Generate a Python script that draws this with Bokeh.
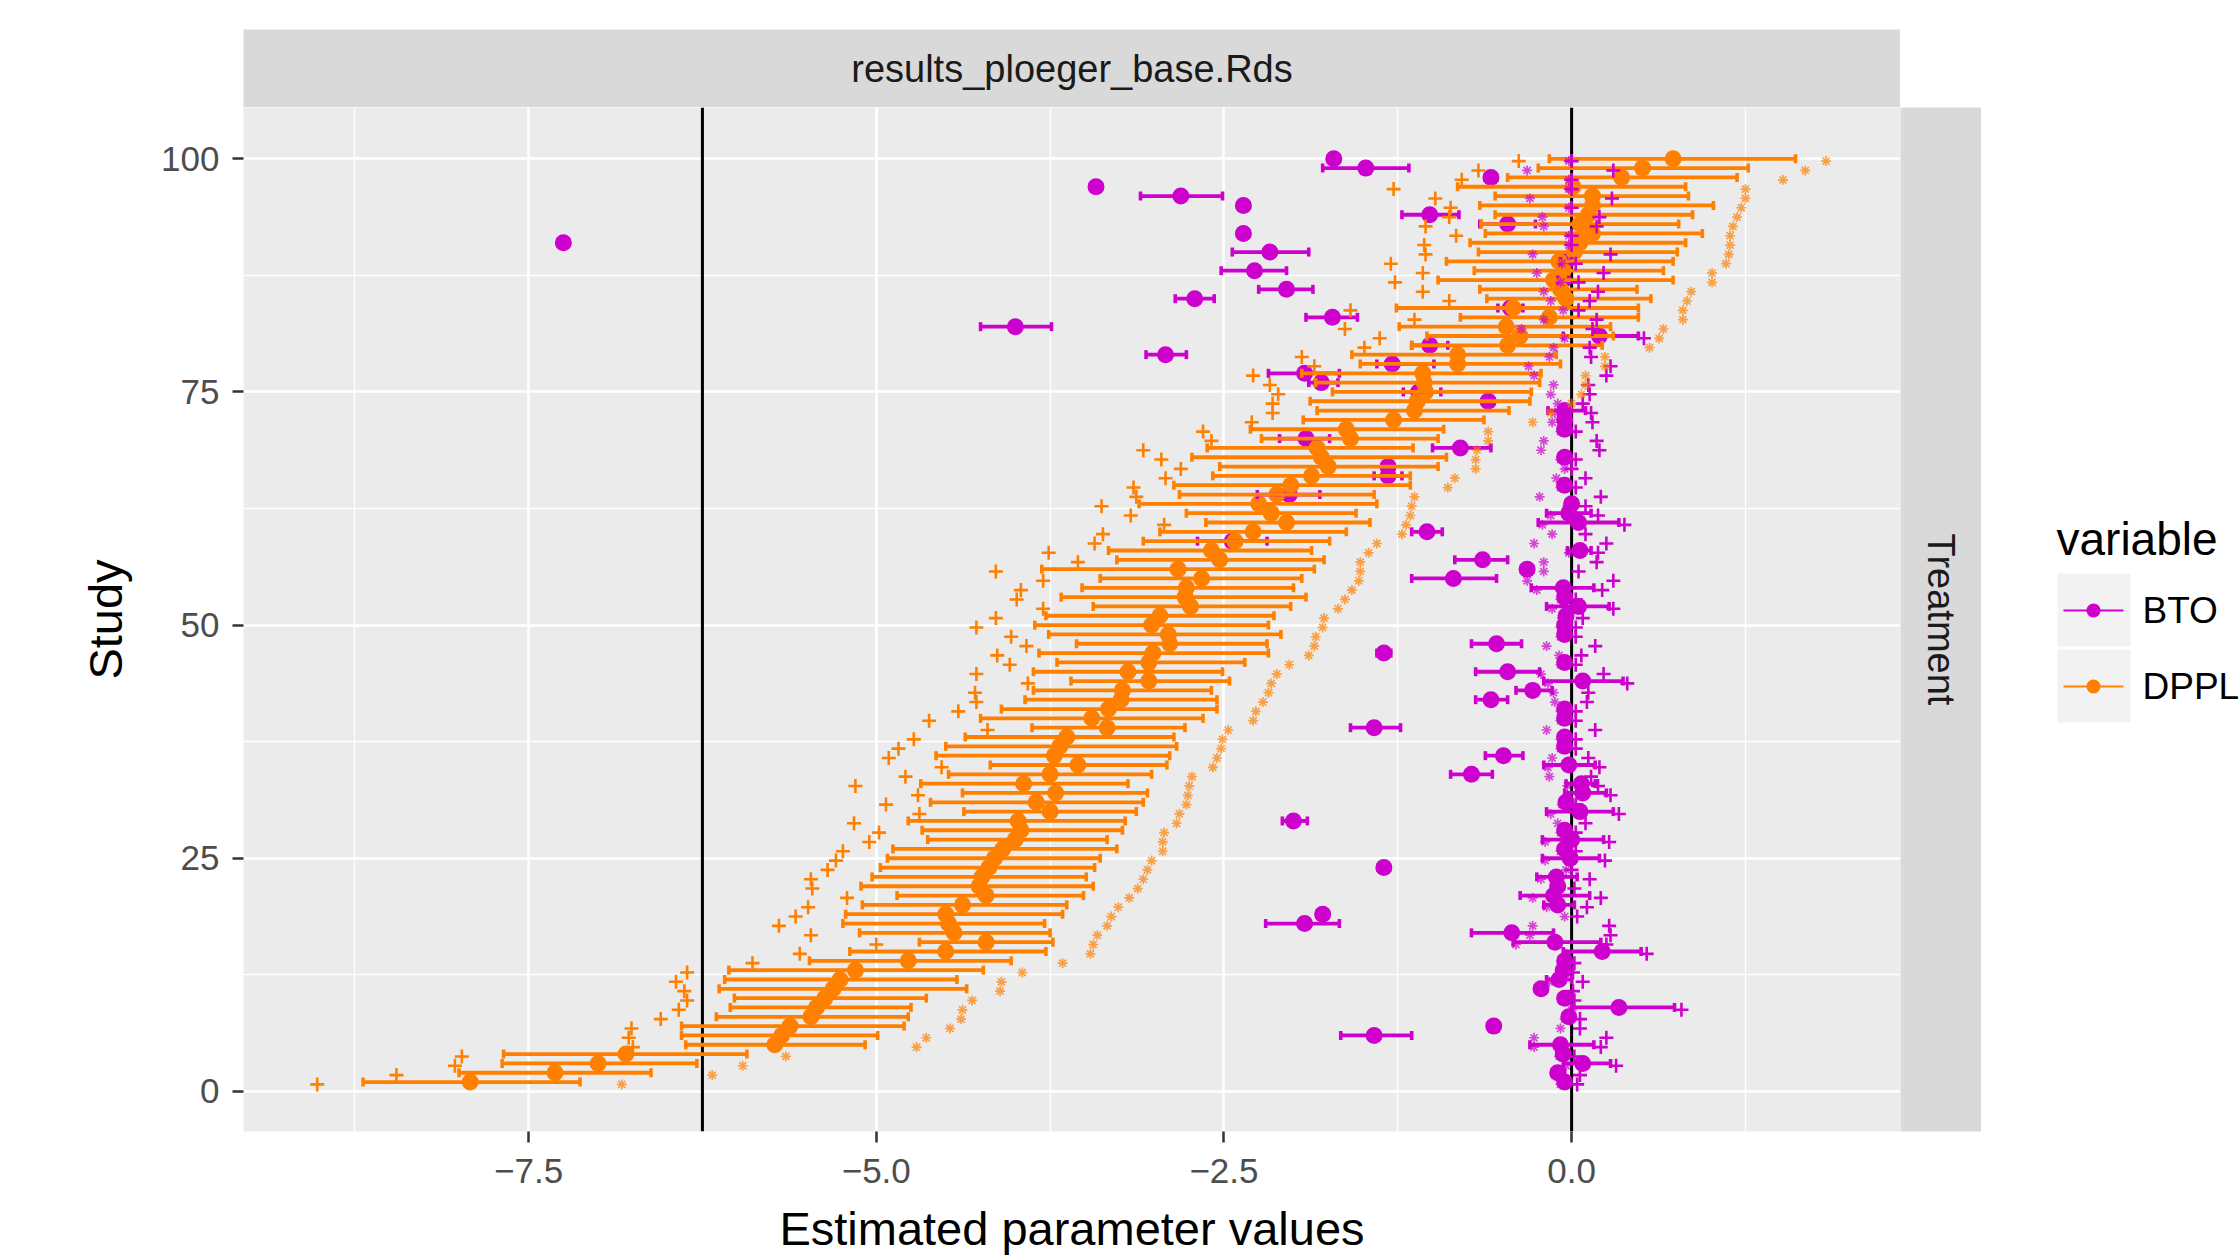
import math
from bokeh.plotting import figure
from bokeh.models import ColumnDataSource, Range1d, FixedTicker, Span
from bokeh.layouts import row, column
from bokeh.transform import dodge
from bokeh.embed import file_html
from bokeh.resources import INLINE
from bokeh.core.properties import value

# ---------------- data ----------------
study = list(range(1, 101))

dppl_est = [-7.92, -7.31, -7.00, -6.80, -5.73, -5.68, -5.62, -5.47, -5.43, -5.37,
            -5.31, -5.26, -5.15, -4.77, -4.50, -4.21, -4.44, -4.48, -4.50, -4.38,
            -4.21, -4.26, -4.24, -4.19, -4.15, -4.09, -4.00, -3.96, -3.98, -3.75,
            -3.85, -3.71, -3.94, -3.75, -3.55, -3.72, -3.68, -3.63, -3.34, -3.45,
            -3.33, -3.24, -3.23, -3.04, -3.19, -3.04, -3.01, -2.89, -2.90, -3.02,
            -2.96, -2.74, -2.78, -2.77, -2.66, -2.83, -2.53, -2.59, -2.42, -2.29,
            -2.05, -2.16, -2.25, -2.12, -2.02, -1.87, -1.75, -1.80, -1.83, -1.59,
            -1.62, -1.28, -1.13, -1.11, -1.05, -1.06, -1.07, -0.82, -0.82, -0.46,
            -0.37, -0.47, -0.16, -0.42, -0.04, -0.08, -0.13, -0.06, -0.09, 0.02,
            0.06, 0.15, 0.06, 0.12, 0.15, 0.15, 0.01, 0.36, 0.51, 0.73]

dppl_lo = [-8.69, -8.00, -7.69, -7.68, -6.37, -6.40, -6.40, -6.15, -6.05, -6.02,
           -6.13, -6.09, -6.06, -5.48, -5.19, -4.69, -5.12, -5.24, -5.22, -5.10,
           -4.85, -5.11, -5.03, -4.97, -4.92, -4.88, -4.63, -4.67, -4.77, -4.37,
           -4.61, -4.38, -4.68, -4.48, -4.18, -4.57, -4.50, -4.36, -3.88, -4.25,
           -4.10, -3.93, -3.87, -3.60, -3.87, -3.70, -3.83, -3.56, -3.76, -3.86,
           -3.78, -3.44, -3.67, -3.52, -3.39, -3.81, -3.27, -3.33, -3.08, -2.96,
           -2.63, -2.77, -3.11, -2.82, -2.86, -2.58, -2.53, -2.73, -2.62, -2.23,
           -2.31, -1.93, -1.83, -1.88, -1.72, -1.84, -1.94, -1.52, -1.58, -1.15,
           -1.04, -1.24, -0.80, -1.26, -0.61, -0.66, -0.96, -0.70, -0.90, -0.67,
           -0.73, -0.62, -0.65, -0.55, -0.66, -0.55, -0.82, -0.46, -0.24, -0.16]

dppl_hi = [-7.13, -6.62, -6.29, -5.93, -5.08, -4.99, -4.80, -4.77, -4.75, -4.64,
           -4.35, -4.42, -4.23, -4.03, -3.78, -3.73, -3.75, -3.79, -3.66, -3.63,
           -3.51, -3.44, -3.49, -3.43, -3.39, -3.27, -3.34, -3.23, -3.21, -3.13,
           -3.08, -3.05, -3.19, -3.02, -2.91, -2.89, -2.84, -2.86, -2.78, -2.65,
           -2.55, -2.55, -2.59, -2.46, -2.51, -2.35, -2.18, -2.19, -2.09, -2.18,
           -2.14, -2.02, -1.91, -2.00, -1.94, -1.85, -1.78, -1.87, -1.74, -1.62,
           -1.45, -1.55, -1.40, -1.42, -1.16, -1.16, -0.96, -0.90, -1.14, -0.96,
           -0.92, -0.63, -0.45, -0.30, -0.29, -0.23, -0.22, -0.08, -0.11, 0.22,
           0.30, 0.28, 0.48, 0.48, 0.57, 0.47, 0.73, 0.66, 0.73, 0.76,
           0.82, 0.94, 0.77, 0.87, 1.02, 0.84, 0.82, 1.19, 1.27, 1.61]

dppl_plus = [-9.02, -8.45, -8.03, -7.98, -6.75, -6.78, -6.76, -6.55, -6.42, -6.36,
             -6.38, -6.44, -6.36, -5.89, -5.55, -5.00, -5.47, -5.70, -5.58, -5.49,
             -5.21, -5.46, -5.47, -5.35, -5.29, -5.24, -5.05, -4.98, -5.16, -4.69,
             -4.93, -4.70, -5.15, -4.79, -4.53, -4.91, -4.84, -4.73, -4.20, -4.62,
             -4.41, -4.28, -4.29, -3.91, -4.28, -4.04, -4.13, -3.92, -4.03, -4.28,
             -4.14, -3.80, -3.99, -3.96, -3.80, -4.14, -3.55, -3.76, -3.43, -3.37,
             -2.93, -3.17, -3.38, -3.13, -3.15, -2.92, -2.81, -2.95, -3.08, -2.59,
             -2.65, -2.30, -2.15, -2.15, -2.11, -2.17, -2.29, -1.85, -1.94, -1.49,
             -1.38, -1.63, -1.13, -1.59, -0.88, -1.07, -1.27, -1.07, -1.30, -1.05,
             -1.06, -0.83, -1.05, -0.88, -0.87, -0.98, -1.28, -0.79, -0.67, -0.38]

dppl_star = [-6.83, -6.18, -5.96, -5.65, -4.71, -4.64, -4.47, -4.39, -4.38, -4.31,
             -4.11, -4.10, -3.95, -3.66, -3.46, -3.44, -3.41, -3.34, -3.31, -3.26,
             -3.18, -3.12, -3.08, -3.05, -3.02, -2.94, -2.94, -2.93, -2.84, -2.82,
             -2.77, -2.76, -2.75, -2.73, -2.58, -2.55, -2.52, -2.51, -2.47, -2.29,
             -2.27, -2.22, -2.18, -2.16, -2.12, -2.03, -1.89, -1.85, -1.84, -1.79,
             -1.78, -1.68, -1.63, -1.58, -1.53, -1.52, -1.52, -1.46, -1.40, -1.22,
             -1.19, -1.16, -1.15, -1.13, -0.89, -0.84, -0.69, -0.69, -0.68, -0.60,
             -0.60, -0.28, -0.15, 0.00, 0.07, 0.10, 0.10, 0.24, 0.24, 0.56,
             0.63, 0.66, 0.80, 0.80, 0.83, 0.86, 1.01, 1.01, 1.11, 1.13,
             1.14, 1.14, 1.16, 1.19, 1.22, 1.25, 1.25, 1.52, 1.68, 1.83]

bto_est = [-0.05, -0.10, 0.08, -0.06, -0.08, -1.42, -0.56, -0.02, 0.34, -0.05,
           -0.22, -0.09, -0.06, -0.05, 0.22, -0.12, -0.43, -1.92, -1.79, -0.10,
           -0.13, -0.10, -0.11, -1.35, -0.01, -0.05, 0.00, -0.05, -2.00, 0.06,
           -0.04, 0.08, 0.07, -0.72, -0.02, -0.49, -0.05, -0.05, -1.42, -0.05,
           -0.05, -0.58, -0.28, 0.08, -0.46, -0.05, -1.35, -0.54, -0.05, -0.05,
           -0.04, 0.05, -0.05, -0.06, -0.85, -0.32, -0.64, 0.06, -2.44, -1.04,
           0.05, -0.02, 0.00, -2.03, -0.05, -1.32, -1.32, -0.05, -0.80, -1.91,
           -0.05, -0.05, -0.05, -0.60, -1.10, -1.80, -1.92, -1.29, -2.92, -1.02,
           0.20, -4.00, -1.72, -0.44, -2.71, -2.05, -0.06, -2.28, -0.04, -2.17,
           -7.25, -2.36, -0.46, -1.02, -2.36, -2.81, -3.42, -0.58, -1.48, -1.71]

bto_lo = [-0.09, -0.14, -0.06, -0.10, -0.30, -1.66, -0.60, -0.06, 0.00, -0.09,
          -0.26, -0.18, -0.10, -0.09, -0.06, -0.42, -0.72, -2.20, -1.83, -0.20,
          -0.37, -0.14, -0.25, -1.39, -0.21, -0.09, -0.21, -0.09, -2.08, -0.18,
          -0.08, -0.05, -0.04, -0.87, -0.20, -0.62, -0.09, -0.09, -1.59, -0.09,
          -0.09, -0.69, -0.40, -0.20, -0.69, -0.09, -1.40, -0.72, -0.09, -0.09,
          -0.08, -0.18, -0.09, -0.29, -1.15, -0.36, -0.84, -0.03, -2.69, -1.15,
          -0.24, -0.18, -0.04, -2.26, -0.09, -1.42, -1.36, -0.09, -1.00, -2.10,
          -0.09, -0.09, -0.17, -0.64, -1.21, -1.89, -2.18, -1.40, -3.06, -1.15,
          -0.06, -4.25, -1.91, -0.53, -2.85, -2.25, -0.10, -2.52, -0.08, -2.44,
          -7.29, -2.40, -0.66, -1.22, -2.40, -3.10, -3.46, -0.62, -1.79, -1.75]

bto_hi = [-0.01, -0.05, 0.28, -0.02, 0.16, -1.15, -0.52, 0.02, 0.74, -0.01,
          -0.18, 0.00, -0.02, -0.01, 0.50, 0.21, -0.13, -1.67, -1.75, 0.02,
          0.13, -0.06, 0.04, -1.31, 0.20, -0.01, 0.23, -0.01, -1.90, 0.30,
          0.00, 0.25, 0.17, -0.57, 0.17, -0.35, -0.01, -0.01, -1.23, -0.01,
          -0.01, -0.46, -0.14, 0.37, -0.23, -0.01, -1.30, -0.36, -0.01, -0.01,
          0.00, 0.27, -0.01, 0.16, -0.54, -0.28, -0.46, 0.14, -2.19, -0.93,
          0.34, 0.14, 0.04, -1.81, -0.01, -1.22, -1.28, -0.01, -0.58, -1.74,
          -0.01, -0.01, 0.10, -0.56, -0.94, -1.68, -1.67, -0.99, -2.77, -0.89,
          0.48, -3.74, -1.54, -0.35, -2.57, -1.86, -0.02, -2.05, 0.00, -1.89,
          -7.21, -2.32, -0.26, -0.81, -2.32, -2.51, -3.38, -0.54, -1.17, -1.67]

bto_star = [-0.08, -0.12, -0.04, -0.09, -0.27, -0.27, -0.08, -0.05, 0.00, -0.07,
            -0.20, -0.16, -0.08, -0.07, -0.04, -0.40, -0.30, -0.28, -0.05, -0.18,
            -0.28, -0.12, -0.22, -0.04, -0.19, -0.08, -0.19, -0.08, -0.10, -0.15,
            -0.07, -0.03, -0.03, -0.16, -0.17, -0.14, -0.08, -0.08, -0.18, -0.08,
            -0.08, -0.12, -0.13, -0.17, -0.22, -0.08, -0.09, -0.18, -0.08, -0.08,
            -0.07, -0.14, -0.08, -0.25, -0.32, -0.20, -0.20, -0.02, -0.27, -0.14,
            -0.21, -0.15, -0.03, -0.23, -0.08, -0.11, -0.05, -0.08, -0.22, -0.20,
            -0.08, -0.14, -0.12, -0.10, -0.15, -0.13, -0.27, -0.31, -0.16, -0.13,
            -0.05, -0.36, -0.20, -0.06, -0.15, -0.20, -0.08, -0.25, -0.07, -0.28,
            -0.02, -0.02, -0.20, -0.21, -0.02, -0.30, -0.02, -0.02, -0.32, -0.02]

bto_plus = [0.04, 0.06, 0.32, 0.02, 0.21, 0.25, 0.06, 0.06, 0.79, 0.02,
            0.01, 0.08, 0.01, 0.02, 0.54, 0.25, 0.28, 0.27, 0.04, 0.11,
            0.21, 0.02, 0.13, 0.00, 0.24, 0.03, 0.27, 0.03, 0.10, 0.34,
            0.03, 0.28, 0.19, 0.14, 0.20, 0.12, 0.03, 0.03, 0.17, 0.03,
            0.03, 0.11, 0.12, 0.40, 0.23, 0.03, 0.07, 0.17, 0.03, 0.03,
            0.08, 0.30, 0.03, 0.22, 0.30, 0.05, 0.18, 0.19, 0.25, 0.10,
            0.38, 0.19, 0.10, 0.21, 0.03, 0.10, 0.00, 0.03, 0.20, 0.18,
            0.03, 0.15, 0.14, 0.08, 0.13, 0.12, 0.25, 0.28, 0.14, 0.13,
            0.52, 0.15, 0.18, 0.05, 0.13, 0.19, 0.05, 0.23, 0.03, 0.28,
            0.00, 0.00, 0.18, 0.20, 0.00, 0.29, 0.00, 0.00, 0.30, 0.00]

variables = ["BTO", "DPPL"]
colors = {"BTO": "#CD00CD", "DPPL": "#FF8000"}
x_ticks = [-7.5, -5.0, -2.5, 0.0]
x_minor = [-8.75, -6.25, -3.75, -1.25, 1.25]
y_ticks = [0, 25, 50, 75, 100]
y_minor = [12.5, 37.5, 62.5, 87.5]
vline_x = [-6.25, 0.0]
facet_label = "results_ploeger_base.Rds"
row_label = "Treatment"

FONT = "Liberation Sans"

sources = {
    "BTO": ColumnDataSource(dict(study=study, est=bto_est, lo=bto_lo, hi=bto_hi,
                                 plus=bto_plus, star=bto_star)),
    "DPPL": ColumnDataSource(dict(study=study, est=dppl_est, lo=dppl_lo, hi=dppl_hi,
                                  plus=dppl_plus, star=dppl_star)),
}

# ---------------- main panel ----------------
p = figure(frame_width=1657, frame_height=1024,
           x_range=Range1d(-9.55, 2.365), y_range=Range1d(-4.3, 105.5),
           output_backend="svg", toolbar_location=None,
           min_border_left=243, min_border_right=0, min_border_top=0,
           min_border_bottom=127,
           background_fill_color="#EBEBEB", border_fill_color="white",
           outline_line_color=None)

xt = FixedTicker(ticks=x_ticks, minor_ticks=x_minor)
yt = FixedTicker(ticks=y_ticks, minor_ticks=y_minor)
p.xaxis.ticker = xt
p.yaxis.ticker = yt
p.xgrid.ticker = xt
p.ygrid.ticker = yt
p.xaxis.major_label_overrides = {-7.5: "\u22127.5", -5.0: "\u22125.0", -2.5: "\u22122.5", 0.0: "0.0"}

for g in (p.xgrid, p.ygrid):
    g.grid_line_color = "white"
    g.grid_line_width = 2.6
    g.minor_grid_line_color = "white"
    g.minor_grid_line_width = 1.3

for ax in (p.xaxis, p.yaxis):
    ax.axis_line_color = None
    ax.major_tick_line_color = "#333333"
    ax.major_tick_line_width = 2.5
    ax.major_tick_out = 11
    ax.major_tick_in = 0
    ax.minor_tick_line_color = None
    ax.major_label_text_font = FONT
    ax.major_label_text_font_size = "35px"
    ax.major_label_text_color = "#4D4D4D"
    ax.axis_label_text_font = FONT
    ax.axis_label_text_font_size = "47px"
    ax.axis_label_text_font_style = "normal"
    ax.axis_label_text_color = "black"

p.xaxis.axis_label = "Estimated parameter values"
p.yaxis.axis_label = "Study"
p.xaxis.major_label_standoff = 16
p.xaxis.axis_label_standoff = 16
p.yaxis.major_label_standoff = 13
p.yaxis.axis_label_standoff = 26

for vx in vline_x:
    p.add_layout(Span(location=vx, dimension="height", line_color="black",
                      line_width=3, level="underlay"))

# points (BTO first, then DPPL)
for v in variables:
    p.scatter(x="est", y="study", source=sources[v], marker="circle", size=17,
              fill_color=colors[v], line_color=None)

# horizontal error bars
for v in variables:
    c = colors[v]
    p.segment(x0="lo", y0="study", x1="hi", y1="study", source=sources[v],
              line_color=c, line_width=3.8)
    for end in ("lo", "hi"):
        p.scatter(x=end, y="study", source=sources[v], marker="dash",
                  angle=math.pi / 2, size=9, line_color=c, line_width=3.6)

# '*' and '+' markers
for v in variables:
    c = colors[v]
    ys = dodge("study", -0.25, range=p.y_range)
    p.scatter(x="star", y=ys, source=sources[v], marker="asterisk", size=10,
              line_color=c, line_width=1.7, line_alpha=0.7)
    p.scatter(x="plus", y=ys, source=sources[v], marker="cross", size=14,
              line_color=c, line_width=2.6)

# ---------------- top strip ----------------
top = figure(frame_width=1657, frame_height=78, x_range=Range1d(0, 1), y_range=Range1d(0, 1),
             output_backend="svg", toolbar_location=None,
             x_axis_location=None, y_axis_location=None,
             min_border_left=243, min_border_right=0, min_border_top=29, min_border_bottom=0,
             background_fill_color="#D9D9D9", border_fill_color="white",
             outline_line_color=None)
top.grid.visible = False
top.text(x=[0.5], y=[0.5], text=[facet_label], text_font=value(FONT),
         text_font_size="38px", text_color="#1A1A1A", text_align="center",
         text_baseline="middle")

# ---------------- right strip ----------------
rs = figure(frame_width=81, frame_height=1024, x_range=Range1d(0, 1), y_range=Range1d(0, 1),
            output_backend="svg", toolbar_location=None,
            x_axis_location=None, y_axis_location=None,
            min_border_left=0, min_border_right=0, min_border_top=107, min_border_bottom=127,
            background_fill_color="#D9D9D9", border_fill_color="white",
            outline_line_color=None)
rs.grid.visible = False
rs.text(x=[0.5], y=[0.5], text=[row_label], text_font=value(FONT),
        text_font_size="38px", text_color="#1A1A1A", text_align="center",
        text_baseline="middle", angle=-math.pi / 2)

# ---------------- legend (same frame rows as the panel; y in page pixels) ----------------
lg = figure(frame_width=258, frame_height=1024, x_range=Range1d(0, 258), y_range=Range1d(1131, 107),
            output_backend="svg", toolbar_location=None,
            x_axis_location=None, y_axis_location=None,
            min_border_left=0, min_border_right=0, min_border_top=107, min_border_bottom=127,
            background_fill_color="white", border_fill_color="white",
            outline_line_color=None)
lg.grid.visible = False
lg.text(x=[75], y=[538], text=["variable"], text_font=value(FONT), text_font_size="46px",
        text_color="black", text_align="left", text_baseline="alphabetic")
key_top = [573, 649]
for i, v in enumerate(variables):
    t = key_top[i]
    lg.quad(left=[76], right=[149], top=[t], bottom=[t + 73], fill_color="#F2F2F2",
            line_color=None)
    lg.segment(x0=[82], y0=[t + 37], x1=[142], y1=[t + 37], line_color=colors[v], line_width=2)
    lg.scatter(x=[112], y=[t + 37], marker="circle", size=14, fill_color=colors[v],
               line_color=None)
    lg.text(x=[161], y=[t + 37], text=[v], text_font=value(FONT), text_font_size="37px",
            text_color="black", text_align="left", text_baseline="middle")

layout = row(column(top, p), rs, lg)
open("out.html", "w").write(file_html(layout, INLINE))
